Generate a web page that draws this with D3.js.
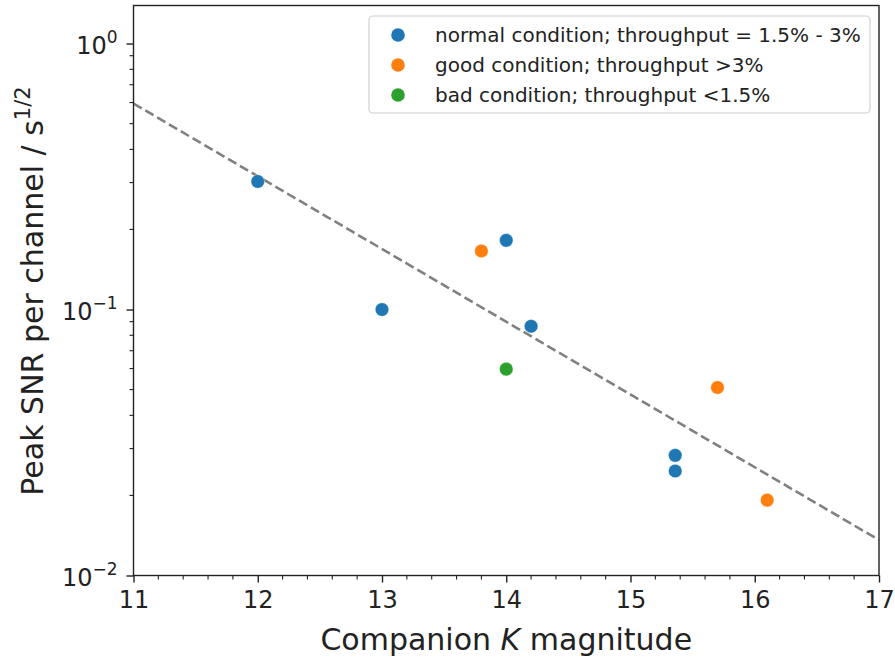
<!DOCTYPE html>
<html><head><meta charset="utf-8">
<script src="https://cdn.jsdelivr.net/npm/d3@7"></script>
<style>body{margin:0;background:#fff;} text{font-family:"DejaVu Sans",sans-serif;}</style>
</head><body>
<svg id="c" width="895" height="660"></svg>
<script>
const normalX = [12, 13, 14, 14.2, 15.36, 15.36];
const normalY = [0.303, 0.100, 0.182, 0.0865, 0.0283, 0.0247];
const goodX = [13.8, 15.7, 16.1];
const goodY = [0.166, 0.0509, 0.0192];
const badX = [14.0];
const badY = [0.0597];
const fitX = [11, 17];
const fitY = [0.595, 0.0136];
const seriesNames = ["normal condition; throughput = 1.5% - 3%", "good condition; throughput >3%", "bad condition; throughput <1.5%"];
const seriesColors = ["#1f77b4", "#ff7f0e", "#2ca02c"];
const xTicks = [11, 12, 13, 14, 15, 16, 17];
const yTicks = [1, 0.1, 0.01];
const yTickExp = ["0", "\u22121", "\u22122"];

const svg = d3.select("#c");
const L = 133.5, R = 879, T = 5.5, B = 575.5;
const x = d3.scaleLinear().domain([11, 17]).range([L, R]);
const y = d3.scaleLog().domain([0.01, 1.39]).range([B, T]);

svg.append("clipPath").attr("id", "clip").append("rect").attr("x", L).attr("y", T).attr("width", R - L).attr("height", B - T);

// fit line
svg.append("path").datum(fitX.map((d, i) => [d, fitY[i]]))
  .attr("clip-path", "url(#clip)")
  .attr("d", d3.line().x(d => x(d[0])).y(d => y(d[1])))
  .attr("fill", "none").attr("stroke", "#808080").attr("stroke-width", 2.6).attr("stroke-dasharray", "9.5,4.2");

// points
const series = [[normalX, normalY], [goodX, goodY], [badX, badY]];
series.forEach((s, k) => {
  svg.append("g").selectAll("circle").data(s[0].map((d, i) => [d, s[1][i]])).join("circle")
    .attr("cx", d => x(d[0])).attr("cy", d => y(d[1])).attr("r", 6.8)
    .attr("fill", seriesColors[k]).attr("stroke", "#ffffff").attr("stroke-opacity", 0.5).attr("stroke-width", 0.8);
});

// axes
const xAxis = svg.append("g").attr("transform", `translate(0,${B})`)
  .call(d3.axisBottom(x).tickValues(xTicks).tickFormat(d3.format("d")).tickSize(7).tickPadding(0));
xAxis.select(".domain").remove();
xAxis.selectAll("text").attr("font-size", 24).attr("fill", "#222").attr("dy", null).attr("y", 32);
xAxis.selectAll("line").attr("stroke", "#222").attr("stroke-width", 1.4);
const xMinor = d3.range(11, 17.001, 0.2).filter(v => Math.abs(v - Math.round(v)) > 0.01);
svg.append("g").selectAll("line").data(xMinor).join("line")
  .attr("x1", d => x(d)).attr("x2", d => x(d)).attr("y1", B).attr("y2", B + 4)
  .attr("stroke", "#222").attr("stroke-width", 1.1);

const yAxis = svg.append("g").attr("transform", `translate(${L},0)`)
  .call(d3.axisLeft(y).tickValues(yTicks).tickFormat("").tickSize(7));
yAxis.select(".domain").remove();
yAxis.selectAll("line").attr("stroke", "#222").attr("stroke-width", 1.4);
const yMinor = [];
[0.01, 0.1, 1].forEach(b => { for (let m = 2; m <= 9; m++) { const v = b * m; if (v < 1.39) yMinor.push(v); } });
svg.append("g").selectAll("line").data(yMinor).join("line")
  .attr("x1", L - 4).attr("x2", L).attr("y1", d => y(d)).attr("y2", d => y(d))
  .attr("stroke", "#222").attr("stroke-width", 1.1);
const yl = svg.append("g").selectAll("text").data(yTicks).join("text")
  .attr("x", L - 16).attr("y", d => y(d) + 10).attr("text-anchor", "end").attr("font-size", 24).attr("fill", "#222");
yl.append("tspan").text("10");
yl.append("tspan").text((d, i) => yTickExp[i]).attr("font-size", 17).attr("dy", -11);

// frame
svg.append("rect").attr("x", L).attr("y", T).attr("width", R - L).attr("height", B - T)
  .attr("fill", "none").attr("stroke", "#222").attr("stroke-width", 1.4);

// labels
const xl = svg.append("text").attr("x", (L + R) / 2).attr("y", 650).attr("text-anchor", "middle").attr("font-size", 30).attr("fill", "#222");
xl.append("tspan").text("Companion ");
xl.append("tspan").text("K").attr("font-style", "italic");
xl.append("tspan").text(" magnitude");

const ylab = svg.append("text").attr("transform", `translate(43,291) rotate(-90)`).attr("text-anchor", "middle").attr("font-size", 30).attr("fill", "#222");
ylab.append("tspan").text("Peak SNR per channel / s");
ylab.append("tspan").text("1/2").attr("font-size", 21).attr("dy", -13);

// legend
const lg = svg.append("g");
lg.append("rect").attr("x", 369).attr("y", 16).attr("width", 501).attr("height", 97).attr("rx", 4)
  .attr("fill", "#fff").attr("fill-opacity", 0.8).attr("stroke", "#d0d0d0").attr("stroke-width", 1.2);
seriesNames.forEach((n, i) => {
  const cy = 35 + i * 30;
  lg.append("circle").attr("cx", 398).attr("cy", cy).attr("r", 6.8).attr("fill", seriesColors[i]);
  lg.append("text").attr("x", 435).attr("y", cy + 7).attr("font-size", 20).attr("fill", "#222").text(n);
});
</script>
</body></html>
